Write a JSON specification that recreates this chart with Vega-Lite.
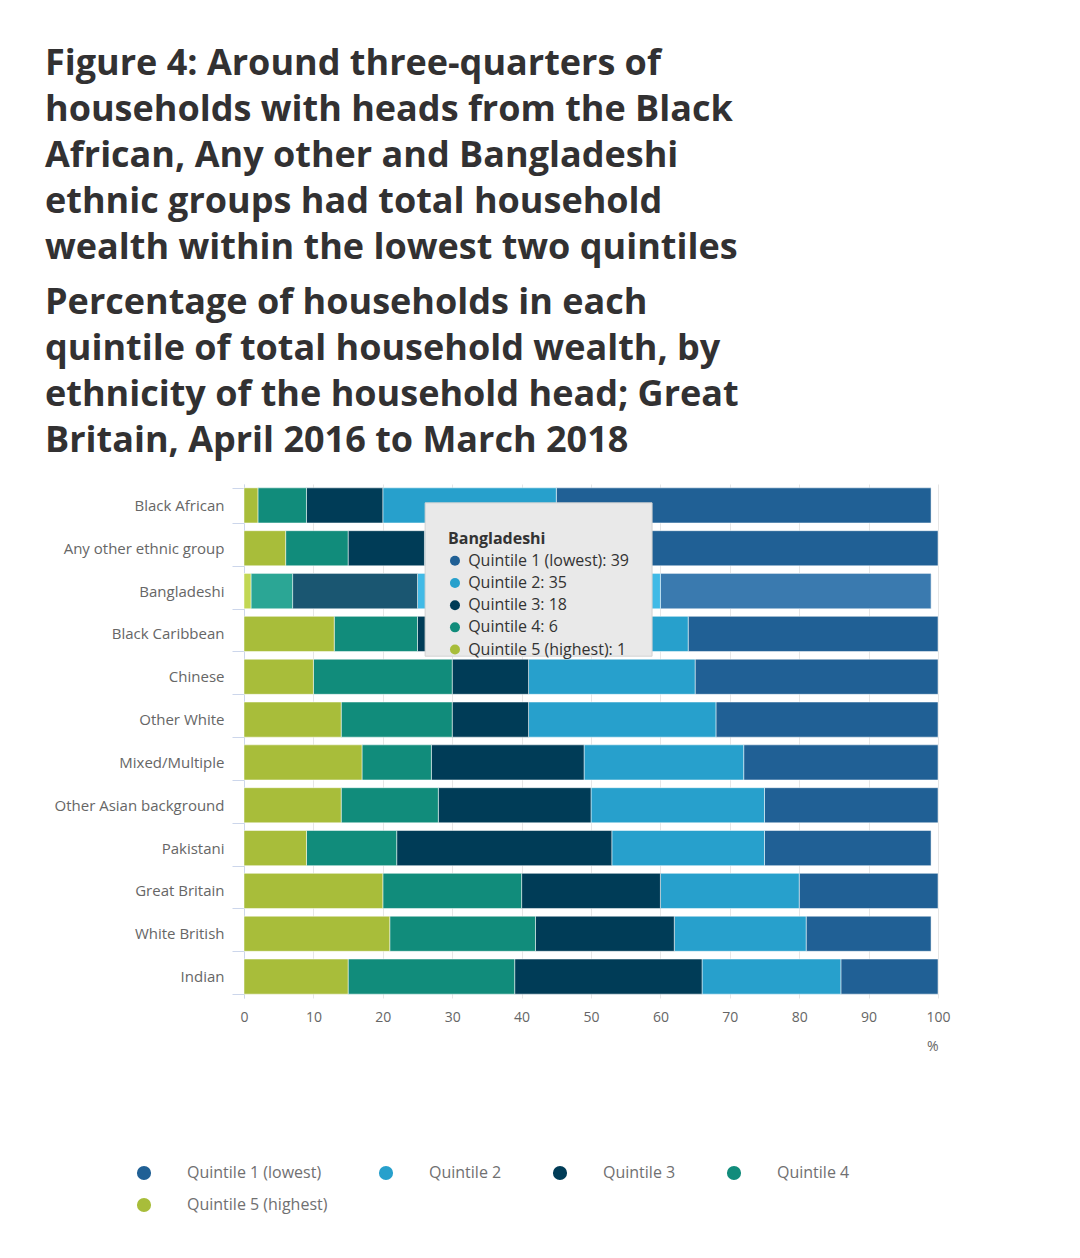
{
  "$schema": "https://vega.github.io/schema/vega-lite/v6.json",
  "autosize": "none",
  "width": 694,
  "height": 514,
  "padding": {"left": 244, "top": 484, "right": 142, "bottom": 260},
  "background": "#ffffff",
  "config": {"font": "Open Sans", "view": {"stroke": null}},
  "title": {
    "text": ["Figure 4: Around three-quarters of", "households with heads from the Black", "African, Any other and Bangladeshi", "ethnic groups had total household", "wealth within the lowest two quintiles"],
    "subtitle": ["Percentage of households in each", "quintile of total household wealth, by", "ethnicity of the household head; Great", "Britain, April 2016 to March 2018"],
    "anchor": "start",
    "frame": "group",
    "dx": -199,
    "fontSize": 36,
    "fontWeight": "bold",
    "color": "#323132",
    "lineHeight": 46,
    "subtitleFontSize": 36,
    "subtitleFontWeight": "bold",
    "subtitleColor": "#323132",
    "subtitleLineHeight": 46,
    "subtitlePadding": 19,
    "subtitleFont": "Open Sans",
    "offset": 17.5
  },
  "datasets": {
    "wealth": [
      {"eth": "Black African", "q": "Quintile 1 (lowest)", "v": 54},
      {"eth": "Black African", "q": "Quintile 2", "v": 25},
      {"eth": "Black African", "q": "Quintile 3", "v": 11},
      {"eth": "Black African", "q": "Quintile 4", "v": 7},
      {"eth": "Black African", "q": "Quintile 5 (highest)", "v": 2},
      {"eth": "Any other ethnic group", "q": "Quintile 1 (lowest)", "v": 50},
      {"eth": "Any other ethnic group", "q": "Quintile 2", "v": 24},
      {"eth": "Any other ethnic group", "q": "Quintile 3", "v": 11},
      {"eth": "Any other ethnic group", "q": "Quintile 4", "v": 9},
      {"eth": "Any other ethnic group", "q": "Quintile 5 (highest)", "v": 6},
      {"eth": "Bangladeshi", "q": "Quintile 1 (lowest)", "v": 39},
      {"eth": "Bangladeshi", "q": "Quintile 2", "v": 35},
      {"eth": "Bangladeshi", "q": "Quintile 3", "v": 18},
      {"eth": "Bangladeshi", "q": "Quintile 4", "v": 6},
      {"eth": "Bangladeshi", "q": "Quintile 5 (highest)", "v": 1},
      {"eth": "Black Caribbean", "q": "Quintile 1 (lowest)", "v": 36},
      {"eth": "Black Caribbean", "q": "Quintile 2", "v": 24},
      {"eth": "Black Caribbean", "q": "Quintile 3", "v": 15},
      {"eth": "Black Caribbean", "q": "Quintile 4", "v": 12},
      {"eth": "Black Caribbean", "q": "Quintile 5 (highest)", "v": 13},
      {"eth": "Chinese", "q": "Quintile 1 (lowest)", "v": 35},
      {"eth": "Chinese", "q": "Quintile 2", "v": 24},
      {"eth": "Chinese", "q": "Quintile 3", "v": 11},
      {"eth": "Chinese", "q": "Quintile 4", "v": 20},
      {"eth": "Chinese", "q": "Quintile 5 (highest)", "v": 10},
      {"eth": "Other White", "q": "Quintile 1 (lowest)", "v": 32},
      {"eth": "Other White", "q": "Quintile 2", "v": 27},
      {"eth": "Other White", "q": "Quintile 3", "v": 11},
      {"eth": "Other White", "q": "Quintile 4", "v": 16},
      {"eth": "Other White", "q": "Quintile 5 (highest)", "v": 14},
      {"eth": "Mixed/Multiple", "q": "Quintile 1 (lowest)", "v": 28},
      {"eth": "Mixed/Multiple", "q": "Quintile 2", "v": 23},
      {"eth": "Mixed/Multiple", "q": "Quintile 3", "v": 22},
      {"eth": "Mixed/Multiple", "q": "Quintile 4", "v": 10},
      {"eth": "Mixed/Multiple", "q": "Quintile 5 (highest)", "v": 17},
      {"eth": "Other Asian background", "q": "Quintile 1 (lowest)", "v": 25},
      {"eth": "Other Asian background", "q": "Quintile 2", "v": 25},
      {"eth": "Other Asian background", "q": "Quintile 3", "v": 22},
      {"eth": "Other Asian background", "q": "Quintile 4", "v": 14},
      {"eth": "Other Asian background", "q": "Quintile 5 (highest)", "v": 14},
      {"eth": "Pakistani", "q": "Quintile 1 (lowest)", "v": 24},
      {"eth": "Pakistani", "q": "Quintile 2", "v": 22},
      {"eth": "Pakistani", "q": "Quintile 3", "v": 31},
      {"eth": "Pakistani", "q": "Quintile 4", "v": 13},
      {"eth": "Pakistani", "q": "Quintile 5 (highest)", "v": 9},
      {"eth": "Great Britain", "q": "Quintile 1 (lowest)", "v": 20},
      {"eth": "Great Britain", "q": "Quintile 2", "v": 20},
      {"eth": "Great Britain", "q": "Quintile 3", "v": 20},
      {"eth": "Great Britain", "q": "Quintile 4", "v": 20},
      {"eth": "Great Britain", "q": "Quintile 5 (highest)", "v": 20},
      {"eth": "White British", "q": "Quintile 1 (lowest)", "v": 18},
      {"eth": "White British", "q": "Quintile 2", "v": 19},
      {"eth": "White British", "q": "Quintile 3", "v": 20},
      {"eth": "White British", "q": "Quintile 4", "v": 21},
      {"eth": "White British", "q": "Quintile 5 (highest)", "v": 21},
      {"eth": "Indian", "q": "Quintile 1 (lowest)", "v": 14},
      {"eth": "Indian", "q": "Quintile 2", "v": 20},
      {"eth": "Indian", "q": "Quintile 3", "v": 27},
      {"eth": "Indian", "q": "Quintile 4", "v": 24},
      {"eth": "Indian", "q": "Quintile 5 (highest)", "v": 15}
    ],
    "tip": [
      {"line": 1, "q": "Quintile 1 (lowest)", "t": "Quintile 1 (lowest): 39"},
      {"line": 2, "q": "Quintile 2", "t": "Quintile 2: 35"},
      {"line": 3, "q": "Quintile 3", "t": "Quintile 3: 18"},
      {"line": 4, "q": "Quintile 4", "t": "Quintile 4: 6"},
      {"line": 5, "q": "Quintile 5 (highest)", "t": "Quintile 5 (highest): 1"}
    ],
    "one": [{"t": "Bangladeshi"}]
  },
  "resolve": {"scale": {"y": "independent", "color": "independent"}},
  "layer": [
    {
      "data": {"name": "wealth"},
      "mark": {"type": "bar", "stroke": "#ffffff", "strokeWidth": 0.5},
      "encoding": {
        "y": {
          "field": "eth", "type": "nominal",
          "scale": {"domain": ["Black African", "Any other ethnic group", "Bangladeshi", "Black Caribbean", "Chinese", "Other White", "Mixed/Multiple", "Other Asian background", "Pakistani", "Great Britain", "White British", "Indian"], "paddingInner": 0.18, "paddingOuter": 0.09},
          "axis": {"title": null, "domainColor": "#ccd6eb", "tickColor": "#ccd6eb", "tickSize": 12, "tickBand": "extent", "labelFontSize": 15, "labelColor": "#666666", "labelPadding": 8, "grid": false}
        },
        "x": {
          "field": "v", "type": "quantitative", "stack": "zero",
          "scale": {"domain": [0, 100], "nice": false},
          "axis": {"values": [0, 10, 20, 30, 40, 50, 60, 70, 80, 90, 100], "domain": false, "ticks": false, "grid": true, "gridColor": "#e6e6e6", "labelFlush": false, "labelFontSize": 14, "labelColor": "#666666", "labelPadding": 12, "title": "%", "titleAnchor": "end", "titleFontWeight": "normal", "titleFontSize": 14, "titleColor": "#666666", "titlePadding": 15}
        },
        "color": {
          "field": "q", "type": "nominal",
          "scale": {"domain": ["Quintile 1 (lowest)", "Quintile 2", "Quintile 3", "Quintile 4", "Quintile 5 (highest)"], "range": ["#206095", "#27a0cc", "#003c57", "#118c7b", "#a8bd3a"]},
          "legend": {"orient": "none", "legendX": -108, "legendY": 681, "direction": "horizontal", "columns": 4, "symbolType": "circle", "symbolSize": 200, "symbolStrokeWidth": 0, "labelFontSize": 16, "labelColor": "#707071", "labelOffset": 35, "columnPadding": 50, "rowPadding": 16, "title": null}
        },
        "order": {"field": "q", "sort": "descending"}
      }
    },
    {
      "data": {"name": "wealth"},
      "transform": [{"filter": "datum.eth === 'Bangladeshi'"}],
      "mark": {"type": "bar", "stroke": "#ffffff", "strokeWidth": 0.5},
      "encoding": {
        "y": {
          "field": "eth", "type": "nominal",
          "scale": {"domain": ["Black African", "Any other ethnic group", "Bangladeshi", "Black Caribbean", "Chinese", "Other White", "Mixed/Multiple", "Other Asian background", "Pakistani", "Great Britain", "White British", "Indian"], "paddingInner": 0.18, "paddingOuter": 0.09},
          "axis": null
        },
        "x": {"field": "v", "type": "quantitative", "stack": "zero"},
        "color": {
          "field": "q", "type": "nominal",
          "scale": {"domain": ["Quintile 1 (lowest)", "Quintile 2", "Quintile 3", "Quintile 4", "Quintile 5 (highest)"], "range": ["#3a7aaf", "#41bae6", "#1a5671", "#2ba695", "#c2d754"]},
          "legend": null
        },
        "order": {"field": "q", "sort": "descending"}
      }
    },
    {
      "data": {"name": "one"},
      "mark": {"type": "rect", "fill": "#e9e9e9", "stroke": "#d2d2d2", "strokeWidth": 1},
      "encoding": {
        "x": {"datum": 26.1, "type": "quantitative"},
        "x2": {"datum": 58.8},
        "y": {"datum": 0.44, "type": "quantitative", "scale": {"domain": [0, 12], "reverse": true, "nice": false, "zero": false}, "axis": null},
        "y2": {"datum": 4.02}
      }
    },
    {
      "data": {"name": "one"},
      "mark": {"type": "text", "align": "left", "baseline": "middle", "fontSize": 16, "fontWeight": "bold", "color": "#333333"},
      "encoding": {
        "x": {"datum": 29.4, "type": "quantitative"},
        "y": {"datum": 0, "type": "quantitative", "scale": {"domain": [-2.46, 20.7], "reverse": true, "nice": false, "zero": false}, "axis": null},
        "text": {"field": "t"}
      }
    },
    {
      "data": {"name": "tip"},
      "mark": {"type": "point", "shape": "circle", "filled": true, "size": 100, "opacity": 1},
      "encoding": {
        "x": {"datum": 30.4, "type": "quantitative"},
        "y": {"field": "line", "type": "quantitative", "scale": {"domain": [-2.46, 20.7], "reverse": true, "nice": false, "zero": false}, "axis": null},
        "color": {
          "field": "q", "type": "nominal",
          "scale": {"domain": ["Quintile 1 (lowest)", "Quintile 2", "Quintile 3", "Quintile 4", "Quintile 5 (highest)"], "range": ["#206095", "#27a0cc", "#003c57", "#118c7b", "#a8bd3a"]},
          "legend": null
        }
      }
    },
    {
      "data": {"name": "tip"},
      "mark": {"type": "text", "align": "left", "baseline": "middle", "fontSize": 16, "color": "#333333"},
      "encoding": {
        "x": {"datum": 32.3, "type": "quantitative"},
        "y": {"field": "line", "type": "quantitative", "scale": {"domain": [-2.46, 20.7], "reverse": true, "nice": false, "zero": false}, "axis": null},
        "text": {"field": "t"}
      }
    }
  ]
}
